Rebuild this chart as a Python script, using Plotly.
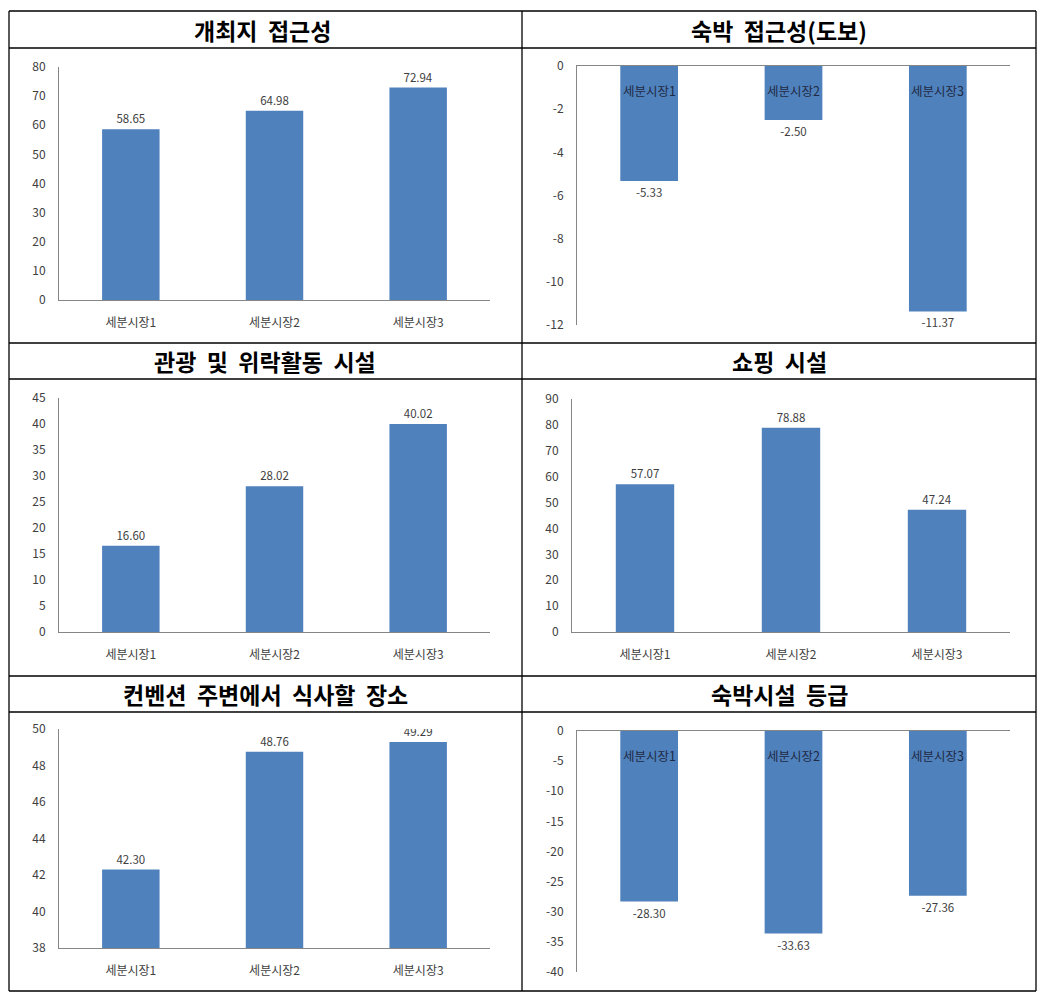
import plotly.graph_objects as go

W, H = 1041, 1003

categories = ["세분시장1", "세분시장2", "세분시장3"]

titles = ["개최지 접근성", "숙박 접근성(도보)", "관광 및 위락활동 시설",
          "쇼핑 시설", "컨벤션 주변에서 식사할 장소", "숙박시설 등급"]

vals_venue_access = [58.65, 64.98, 72.94]
vals_lodging_walk = [-5.33, -2.50, -11.37]
vals_tourism = [16.60, 28.02, 40.02]
vals_shopping = [57.07, 78.88, 47.24]
vals_dining = [42.30, 48.76, 49.29]
vals_lodging_grade = [-28.30, -33.63, -27.36]

series = [vals_venue_access, vals_lodging_walk, vals_tourism,
          vals_shopping, vals_dining, vals_lodging_grade]

# y tick values (labels written with a plain hyphen minus, as in the original)
ticks_venue_access = [0, 10, 20, 30, 40, 50, 60, 70, 80]
ticks_lodging_walk = [0, -2, -4, -6, -8, -10, -12]
ticks_tourism = [0, 5, 10, 15, 20, 25, 30, 35, 40, 45]
ticks_shopping = [0, 10, 20, 30, 40, 50, 60, 70, 80, 90]
ticks_dining = [38, 40, 42, 44, 46, 48, 50]
ticks_lodging_grade = [0, -5, -10, -15, -20, -25, -30, -35, -40]

tick_sets = [ticks_venue_access, ticks_lodging_walk, ticks_tourism,
             ticks_shopping, ticks_dining, ticks_lodging_grade]

# plot-area pixel boxes (x0, x1, ytop, ybottom)
boxes = [(59, 490, 67, 300), (577, 1010, 66, 325),
         (59, 490, 398, 632), (572, 1010, 399, 632),
         (59, 490, 729, 948), (577, 1010, 731, 972)]

BAR = "#4F81BD"
TXT = "#404040"
FONT = "Noto Sans CJK KR"

fig = go.Figure()
layout = {}
annotations = []
for i, (vals, ticks, box) in enumerate(zip(series, tick_sets, boxes)):
    n = "" if i == 0 else str(i + 1)
    rng = [min(ticks), max(ticks)]
    negative = rng[1] == 0
    fig.add_trace(go.Bar(
        x=categories, y=vals, marker=dict(color=BAR, line=dict(width=0)),
        texttemplate="%{y:.2f}", textposition="outside",
        textfont=dict(family=FONT, size=11.5, color=TXT),
        cliponaxis=(rng[0] != 0 and not negative),
        xaxis="x" + n, yaxis="y" + n, showlegend=False,
        hoverinfo="x+y"))
    x0, x1, yt, yb = box
    xa = dict(domain=[x0 / W, x1 / W], anchor="y" + n, automargin=False,
              showline=True, linecolor="#868686", linewidth=1,
              ticks="", showgrid=False, zeroline=False,
              tickfont=dict(family=FONT, size=12, color=TXT))
    if negative:
        xa.update(side="top", showticklabels=False)
        for c in categories:
            annotations.append(dict(text=c, x=c, y=0, xref="x" + n, yref="y" + n,
                                    yanchor="top", yshift=-13, showarrow=False,
                                    font=dict(family=FONT, size=12.5, color="#1F2A44")))
    else:
        xa.update(ticklabelstandoff=12)
    ya = dict(domain=[1 - yb / H, 1 - yt / H], anchor="x" + n, automargin=False,
              range=rng, tickvals=ticks, ticktext=[str(t) for t in ticks],
              showline=True, linecolor="#868686",
              linewidth=1, ticks="", showgrid=False, zeroline=False,
              tickfont=dict(family=FONT, size=12, color=TXT),
              ticklabelstandoff=10)
    layout["xaxis" + n] = xa
    layout["yaxis" + n] = ya

fig.update_layout(**layout)

# table borders
shapes = []
def hline(y, x0=9, x1=1036):
    shapes.append(dict(type="line", xref="paper", yref="paper",
                       x0=x0 / W, x1=x1 / W, y0=1 - y / H, y1=1 - y / H,
                       line=dict(color="black", width=1.3)))
def vline(x, y0=11, y1=991):
    shapes.append(dict(type="line", xref="paper", yref="paper",
                       x0=x / W, x1=x / W, y0=1 - y0 / H, y1=1 - y1 / H,
                       line=dict(color="black", width=1.3)))
for y in [11, 48, 343, 379, 676, 712, 991]:
    hline(y)
for x in [9, 522, 1036]:
    vline(x)

title_pos = [(262, 30), (779, 30), (265, 361), (779, 361), (265, 694), (779, 694)]
for t, (cx, cy) in zip(titles, title_pos):
    annotations.append(dict(text="<b>" + t.replace(" ", "&nbsp;&nbsp;") + "</b>", xref="paper", yref="paper",
                            x=cx / W, y=1 - cy / H, xanchor="center", yanchor="middle",
                            showarrow=False,
                            font=dict(family=FONT, size=23, color="black")))

fig.update_layout(width=W, height=H, margin=dict(l=0, r=0, t=0, b=0, autoexpand=False),
                  paper_bgcolor="white", plot_bgcolor="white",
                  bargap=0.6, shapes=shapes, annotations=annotations,
                  font=dict(family=FONT))

fig.write_html("out.html")
